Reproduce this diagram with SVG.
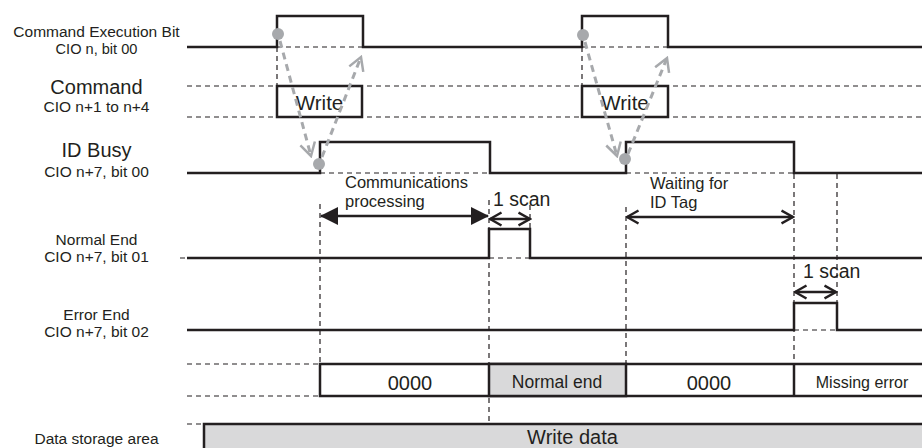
<svg xmlns="http://www.w3.org/2000/svg" width="922" height="448" viewBox="0 0 922 448">
<style>
text{font-family:"Liberation Sans",Arial,Helvetica,sans-serif;fill:#231f20}
.sig{fill:none;stroke:#231f20;stroke-width:2.5;stroke-linejoin:miter}
.box{fill:#fff;stroke:#231f20;stroke-width:2.5}
.gbox{fill:#d9d9da;stroke:#231f20;stroke-width:2.5}
.dash{fill:none;stroke:#231f20;stroke-width:1.2;stroke-dasharray:5 4}
.gray{fill:none;stroke:#a7a9ac;stroke-width:3;stroke-dasharray:7 5}
.dot{fill:#a7a9ac}
.lbl{font-size:15.5px;text-anchor:middle}
.big{font-size:20px;text-anchor:middle}
.mid{text-anchor:middle}
.note{font-size:16.5px}
.arr{fill:none;stroke:#231f20;stroke-width:2.5}
</style>
<defs>
<marker id="fa" viewBox="0 0 18 18" refX="17" refY="9" markerWidth="18" markerHeight="18" markerUnits="userSpaceOnUse" orient="auto-start-reverse"><path d="M0,0 L18,9 L0,18 Z" fill="#231f20"/></marker>
<marker id="oa" viewBox="0 0 14 16" refX="12.5" refY="8" markerWidth="14" markerHeight="16" markerUnits="userSpaceOnUse" orient="auto-start-reverse"><path d="M1,1.5 L12.5,8 L1,14.5" fill="none" stroke="#231f20" stroke-width="2.5"/></marker>
<marker id="ga" viewBox="0 0 16 18" refX="14" refY="9" markerWidth="16" markerHeight="18" markerUnits="userSpaceOnUse" orient="auto"><path d="M1,1.5 L14,9 L1,16.5" fill="none" stroke="#a7a9ac" stroke-width="2.5"/></marker>
</defs>

<g id="labels">
<text class="lbl" x="96.5" y="37">Command Execution Bit</text>
<text class="lbl" x="96.5" y="54" style="font-size:14.6px">CIO n, bit 00</text>
<text class="big" x="96.5" y="93.5">Command</text>
<text class="lbl" x="96.5" y="111.5">CIO n+1 to n+4</text>
<text class="big" x="96.5" y="157">ID Busy</text>
<text class="lbl" x="96.5" y="177">CIO n+7, bit 00</text>
<text class="lbl" x="96.5" y="245">Normal End</text>
<text class="lbl" x="96.5" y="262">CIO n+7, bit 01</text>
<text class="lbl" x="96.5" y="319.5">Error End</text>
<text class="lbl" x="96.5" y="337">CIO n+7, bit 02</text>
<text class="lbl" x="96.5" y="443.5">Data storage area</text>
</g>

<g id="command-execution-bit">
<path class="sig" d="M187,47 H277 V16 H363 V47 H582 V16 H668 V47 H922"/>
<path class="dash" d="M277,47 H363 M582,47 H668 M277,47 V86 M582,47 V86"/>
</g>

<g id="command">
<path class="dash" d="M187,86 H922 M187,117 H922"/>
<rect class="box" x="277" y="86" width="85" height="31"/>
<rect class="box" x="582" y="86" width="86" height="31"/>
<text class="big" x="319.5" y="110" style="font-size:20.5px">Write</text>
<text class="big" x="625" y="110" style="font-size:20.5px">Write</text>
</g>

<g id="id-busy">
<path class="sig" d="M187,173 H320 V142 H490 V173 H626 V142 H794 V173 H922"/>
<path class="dash" d="M320,173 H490 M626,173 H794"/>
</g>

<g id="normal-end">
<path class="sig" d="M187,258 H489 V229 H530 V258 H922"/>
<path class="dash" d="M180,258 H186 M489,258 H530"/>
</g>

<g id="error-end">
<path class="sig" d="M187,330 H794 V303 H837 V330 H922"/>
<path class="dash" d="M794,330 H837"/>
</g>

<g id="guides">
<path class="dash" d="M320,204 V364 M489,200 V424 M530,205 V229 M626,207 V364 M794,174 V364 M837,174 V303"/>
</g>

<g id="status-area">
<path class="dash" d="M187,364 H320 M187,396 H320"/>
<rect class="box" x="320" y="364" width="610" height="32"/>
<rect class="gbox" x="489" y="364" width="137" height="32"/>
<path class="sig" d="M794,364 V396"/>
<text class="mid" x="410" y="390" style="font-size:20px">0000</text>
<text class="mid" x="557" y="387.5" style="font-size:17.5px">Normal end</text>
<text class="mid" x="709" y="390" style="font-size:20px">0000</text>
<text class="mid" x="862" y="387.5" style="font-size:16px">Missing error</text>
</g>

<g id="data-storage-area">
<path class="dash" d="M187,424 H204"/>
<rect class="gbox" x="204" y="424" width="730" height="40"/>
<text class="mid" x="572.5" y="444" style="font-size:20px">Write data</text>
</g>

<g id="connectors">
<path class="gray" d="M280,41 L311,156" marker-end="url(#ga)"/>
<path class="gray" d="M322,157 L361,57" marker-end="url(#ga)"/>
<path class="gray" d="M585,42 L617,156" marker-end="url(#ga)"/>
<path class="gray" d="M628,154 L667,58" marker-end="url(#ga)"/>
<circle class="dot" cx="278" cy="34" r="6"/>
<circle class="dot" cx="319" cy="164" r="6"/>
<circle class="dot" cx="583" cy="35" r="6"/>
<circle class="dot" cx="625" cy="159" r="6"/>
<path class="arr" d="M321,216 H488" marker-start="url(#fa)" marker-end="url(#fa)"/>
<path class="arr" d="M490,219 H530" marker-start="url(#oa)" marker-end="url(#oa)"/>
<path class="arr" d="M627,217 H793" marker-start="url(#oa)" marker-end="url(#oa)"/>
<path class="arr" d="M795,292 H836" marker-start="url(#oa)" marker-end="url(#oa)"/>
<text class="note" x="345" y="188">Communications</text>
<text class="note" x="345" y="207">processing</text>
<text x="493" y="206" style="font-size:19.5px">1 scan</text>
<text class="note" x="650" y="189">Waiting for</text>
<text class="note" x="650" y="208">ID Tag</text>
<text x="803" y="278" style="font-size:19.5px">1 scan</text>
</g>
</svg>
